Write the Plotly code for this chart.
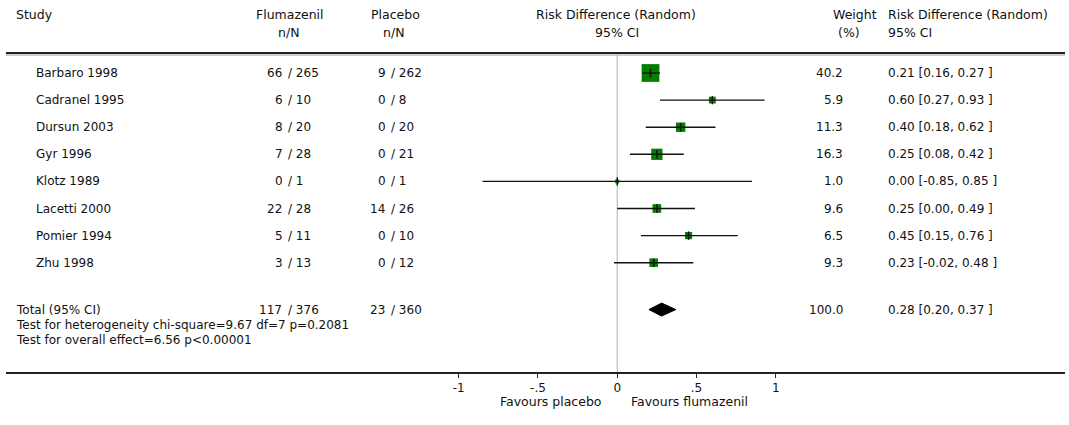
import plotly.graph_objects as go

# ---------------- data ----------------
studies = ["Barbaro 1998", "Cadranel 1995", "Dursun 2003", "Gyr 1996",
           "Klotz 1989", "Lacetti 2000", "Pomier 1994", "Zhu 1998"]
flum_n = [66, 6, 8, 7, 0, 22, 5, 3]
flum_N = [265, 10, 20, 28, 1, 28, 11, 13]
plac_n = [9, 0, 0, 0, 0, 14, 0, 0]
plac_N = [262, 8, 20, 21, 1, 26, 10, 12]
rd = [0.21, 0.60, 0.40, 0.25, 0.00, 0.25, 0.45, 0.23]
ci_lo = [0.16, 0.27, 0.18, 0.08, -0.85, 0.00, 0.15, -0.02]
ci_hi = [0.27, 0.93, 0.62, 0.42, 0.85, 0.49, 0.76, 0.48]
weight = [40.2, 5.9, 11.3, 16.3, 1.0, 9.6, 6.5, 9.3]

total_flum = (117, 376)
total_plac = (23, 360)
total_weight = 100.0
total_rd, total_lo, total_hi = 0.28, 0.20, 0.37
heterogeneity_text = "Test for heterogeneity chi-square=9.67 df=7 p=0.2081"
overall_text = "Test for overall effect=6.56 p<0.00001"

tick_vals = [-1, -0.5, 0, 0.5, 1]
tick_text = ["-1", "-.5", "0", ".5", "1"]

# ---------------- layout helpers ----------------
W, H = 1069, 425
FONT = "DejaVu Sans"
FS = 12          # body text
FSH = 12.5       # header / label text
ROW0, ROWH = 73, 27.1            # pixel centre of first row, row pitch
TOTAL_ROW = len(studies) + 0.73  # summary row position (in row units)


def px(x):
    return x / W


def py(y):
    return 1 - y / H


fig = go.Figure()

# squares (area ~ weight)
sizes = [max(4.0, 2.8 * w ** 0.5) for w in weight]
rows = list(range(len(studies)))
fig.add_trace(go.Scatter(
    x=rd, y=rows, mode="markers",
    marker=dict(symbol="square", size=sizes, color="#007f00", opacity=1,
                line=dict(width=0)),
    cliponaxis=False, hoverinfo="skip"))

# confidence interval lines
cx, cy = [], []
for lo, hi, r in zip(ci_lo, ci_hi, rows):
    cx += [lo, hi, None]
    cy += [r, r, None]
fig.add_trace(go.Scatter(x=cx, y=cy, mode="lines",
                         line=dict(color="#111111", width=1.4),
                         cliponaxis=False, hoverinfo="skip"))

# centre ticks
fig.add_trace(go.Scatter(
    x=rd, y=rows, mode="markers",
    marker=dict(symbol="line-ns", size=6, opacity=1,
                line=dict(width=1.4, color="#111111")),
    cliponaxis=False, hoverinfo="skip"))

# summary diamond
dh = 0.24
fig.add_trace(go.Scatter(
    x=[total_lo, total_rd, total_hi, total_rd, total_lo],
    y=[TOTAL_ROW, TOTAL_ROW - dh, TOTAL_ROW, TOTAL_ROW + dh, TOTAL_ROW],
    mode="lines", fill="toself", fillcolor="#000000",
    line=dict(color="#000000", width=1), hoverinfo="skip"))

# ---------------- texts ----------------
ann = []


def txt(x, y, s, xanchor="left", yref="paper", size=FS):
    ann.append(dict(x=x, y=y, xref="paper", yref=yref, text=s,
                    xanchor=xanchor, yanchor="middle", showarrow=False,
                    borderpad=0,
                    font=dict(family=FONT, size=size, color="#111111")))


HDR1, HDR2 = 14, 33
txt(px(9), py(HDR1), "Study", size=FSH)
txt(px(287), py(HDR1), "Flumazenil", "center", size=FSH)
txt(px(285), py(HDR2), "n/N", "center", size=FSH)
txt(px(393), py(HDR1), "Placebo", "center", size=FSH)
txt(px(391), py(HDR2), "n/N", "center", size=FSH)
txt(px(616), py(HDR1), "Risk Difference (Random)", "center", size=FSH)
txt(px(617), py(HDR2), "95% CI", "center", size=FSH)
txt(px(857), py(HDR1), "Weight", "center", size=FSH)
txt(px(851), py(HDR2), "(%)", "center", size=FSH)
txt(px(889), py(HDR1), "Risk Difference (Random)", size=FSH)
txt(px(889), py(HDR2), "95% CI", size=FSH)

FL_SLASH, PL_SLASH = 284, 388
for i, s in enumerate(studies):
    txt(px(29), i, s, yref="y")
    txt(px(FL_SLASH), i, f"{flum_n[i]} ", "right", yref="y")
    txt(px(FL_SLASH), i, f"/ {flum_N[i]}", "left", yref="y")
    txt(px(PL_SLASH), i, f"{plac_n[i]} ", "right", yref="y")
    txt(px(PL_SLASH), i, f"/ {plac_N[i]}", "left", yref="y")
    txt(px(846), i, f"{weight[i]:.1f}", "right", yref="y")
    txt(px(889), i, f"{rd[i]:.2f} [{ci_lo[i]:.2f}, {ci_hi[i]:.2f} ]", yref="y")

txt(px(9), TOTAL_ROW, "Total (95% CI)", yref="y")
txt(px(FL_SLASH), TOTAL_ROW, f"{total_flum[0]} ", "right", yref="y")
txt(px(FL_SLASH), TOTAL_ROW, f"/ {total_flum[1]}", "left", yref="y")
txt(px(PL_SLASH), TOTAL_ROW, f"{total_plac[0]} ", "right", yref="y")
txt(px(PL_SLASH), TOTAL_ROW, f"/ {total_plac[1]}", "left", yref="y")
txt(px(846), TOTAL_ROW, f"{total_weight:.1f}", "right", yref="y")
txt(px(889), TOTAL_ROW, f"{total_rd:.2f} [{total_lo:.2f}, {total_hi:.2f} ]", yref="y")
txt(px(9), py(325), heterogeneity_text)
txt(px(9), py(340), overall_text)

txt(px(603), py(401), "Favours placebo", "right", size=FSH)
txt(px(630), py(401), "Favours flumazenil", "left", size=FSH)

# ---------------- rules ----------------
HEADER_LINE, AXIS_LINE = 53, 373
shapes = [
    dict(type="line", xref="paper", yref="paper", x0=0, x1=1,
         y0=py(HEADER_LINE), y1=py(HEADER_LINE), line=dict(color="#222222", width=2)),
    dict(type="line", xref="paper", yref="paper", x0=0, x1=1,
         y0=py(HEADER_LINE + 2), y1=py(HEADER_LINE + 2), line=dict(color="#9a9a9a", width=1)),
    dict(type="line", xref="paper", yref="paper", x0=0, x1=1,
         y0=py(AXIS_LINE), y1=py(AXIS_LINE), line=dict(color="#222222", width=2)),
    dict(type="line", xref="x", yref="paper", x0=0, x1=0,
         y0=py(AXIS_LINE), y1=py(HEADER_LINE + 2), line=dict(color="#b0b0b0", width=1),
         layer="below"),
]

fig.update_layout(
    width=W, height=H, margin=dict(l=0, r=0, t=0, b=0),
    paper_bgcolor="white", plot_bgcolor="white", showlegend=False,
    annotations=ann, shapes=shapes,
    xaxis=dict(range=[-1, 1], domain=[px(457), px(777)], anchor="free",
               position=py(AXIS_LINE), tickvals=tick_vals, ticktext=tick_text,
               ticks="outside", ticklen=4, tickcolor="#222222", tickwidth=1,
               showgrid=False, zeroline=False, showline=False,
               tickfont=dict(family=FONT, size=FS, color="#111111")),
    yaxis=dict(range=[(H - ROW0) / ROWH, -ROW0 / ROWH], domain=[0, 1],
               visible=False, showgrid=False, zeroline=False),
)

fig.write_html("out.html")
